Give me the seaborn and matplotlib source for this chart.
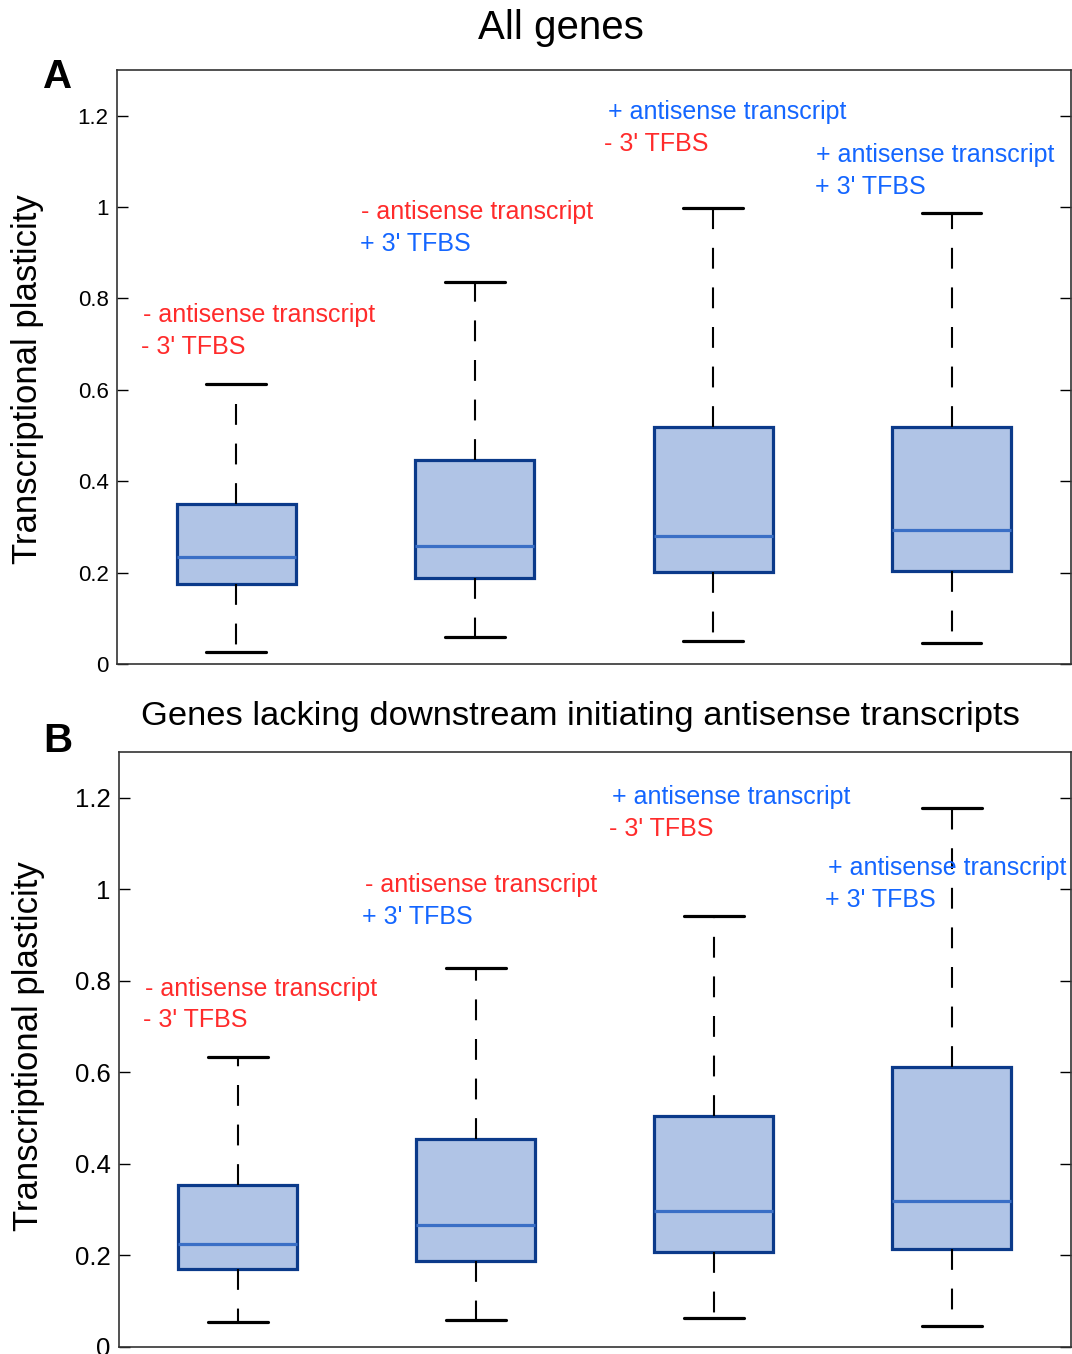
import numpy as np
import pandas as pd
import matplotlib
matplotlib.use("Agg")
import matplotlib.pyplot as plt
import seaborn as sns
from matplotlib.ticker import FuncFormatter

# ---------------- data (five-number summaries) ----------------
groups = ["-AS -TFBS", "-AS +TFBS", "+AS -TFBS", "+AS +TFBS"]

# Panel A: All genes
all_low = [0.026, 0.059, 0.050, 0.046]
all_q1 = [0.175, 0.188, 0.201, 0.203]
all_med = [0.234, 0.258, 0.280, 0.293]
all_q3 = [0.350, 0.446, 0.518, 0.518]
all_high = [0.612, 0.835, 0.997, 0.986]

# Panel B: Genes lacking downstream initiating antisense transcripts
lack_low = [0.055, 0.059, 0.063, 0.046]
lack_q1 = [0.171, 0.188, 0.208, 0.215]
lack_med = [0.226, 0.267, 0.296, 0.320]
lack_q3 = [0.353, 0.455, 0.504, 0.611]
lack_high = [0.633, 0.828, 0.941, 1.178]

line1_text = ["- antisense transcript", "- antisense transcript",
              "+ antisense transcript", "+ antisense transcript"]
line2_text = ["- 3' TFBS", "+ 3' TFBS", "- 3' TFBS", "+ 3' TFBS"]

yticks = [0, 0.2, 0.4, 0.6, 0.8, 1.0, 1.2]

RED = "#ff2b2b"
BLUE = "#1466ff"
line1_color = [RED, RED, BLUE, BLUE]
line2_color = [RED, BLUE, RED, BLUE]

FILL = "#b0c4e6"
EDGE = "#0b3a8a"
MED = "#3a6fc6"


def long_frame(low, q1, med, q3, high):
    rows = []
    for g, a, b, c, d, e in zip(groups, low, q1, med, q3, high):
        for v in (a, b, c, d, e):
            rows.append({"group": g, "value": v})
    return pd.DataFrame(rows)


df_all = long_frame(all_low, all_q1, all_med, all_q3, all_high)
df_lack = long_frame(lack_low, lack_q1, lack_med, lack_q3, lack_high)

# ---------------- style ----------------
sns.set_theme(style="white")
plt.rcParams["font.family"] = ["Liberation Sans", "DejaVu Sans"]
plt.rcParams["text.color"] = "black"
plt.rcParams["axes.labelcolor"] = "black"
plt.rcParams["ytick.color"] = "black"

fig = plt.figure(figsize=(10.72, 13.54), dpi=100)
axA = fig.add_axes([0.1091, 0.5096, 0.8899, 0.4387])
axB = fig.add_axes([0.1110, 0.0052, 0.8880, 0.4394])


def draw(ax, df, tick_size):
    sns.boxplot(
        data=df, x="group", y="value", order=groups, ax=ax,
        width=0.5, whis=(0, 100), showfliers=False,
        color=FILL, saturation=1, linecolor=EDGE,
        boxprops=dict(facecolor=FILL, edgecolor=EDGE, linewidth=2.3),
        medianprops=dict(color=MED, linewidth=2.3),
        whiskerprops=dict(color="black", linewidth=1.5, linestyle=(0, (10, 9))),
        capprops=dict(color="black", linewidth=2.3),
    )
    ax.set_xlim(-0.5, 3.5)
    ax.set_ylim(0, 1.3)
    ax.set_xticks([])
    ax.set_xlabel("")
    ax.set_yticks(yticks)
    ax.yaxis.set_major_formatter(FuncFormatter(lambda v, p: f"{v:g}"))
    ax.tick_params(axis="y", direction="in", length=8, width=1.0,
                   left=True, right=True, labelsize=tick_size, pad=6,
                   colors="black")
    for s in ax.spines.values():
        s.set_visible(True)
        s.set_color("#333333")
        s.set_linewidth(1.2)
    ax.set_ylabel("Transcriptional plasticity", fontsize=25, color="black")


draw(axA, df_all, 16)
draw(axB, df_lack, 18.5)
axA.yaxis.set_label_coords(-0.076, 0.48)
axB.yaxis.set_label_coords(-0.078, 0.506)

# annotations
A_l1x = [-0.391, 0.525, 1.559, 2.433]
A_l2x = [-0.400, 0.517, 1.542, 2.425]
A_l1y = [0.763, 0.990, 1.209, 1.115]
A_l2y = [0.693, 0.920, 1.139, 1.045]

B_l1x = [-0.391, 0.534, 1.571, 2.479]
B_l2x = [-0.399, 0.521, 1.559, 2.466]
B_l1y = [0.782, 1.009, 1.202, 1.047]
B_l2y = [0.714, 0.939, 1.132, 0.977]

for ax, l1x, l1y, l2x, l2y in [(axA, A_l1x, A_l1y, A_l2x, A_l2y),
                               (axB, B_l1x, B_l1y, B_l2x, B_l2y)]:
    for i in range(4):
        ax.text(l1x[i], l1y[i], line1_text[i], color=line1_color[i],
                fontsize=18, ha="left", va="center")
        ax.text(l2x[i], l2y[i], line2_text[i], color=line2_color[i],
                fontsize=18, ha="left", va="center")

fig.text(0.523, 0.979, "All genes", fontsize=29, ha="center", va="center")
fig.text(0.541, 0.471, "Genes lacking downstream initiating antisense transcripts",
         fontsize=24.8, ha="center", va="center")
fig.text(0.054, 0.943, "A", fontsize=29, fontweight="bold", ha="center", va="center")
fig.text(0.054, 0.453, "B", fontsize=29, fontweight="bold", ha="center", va="center")

fig.savefig("out.png", dpi=100)
